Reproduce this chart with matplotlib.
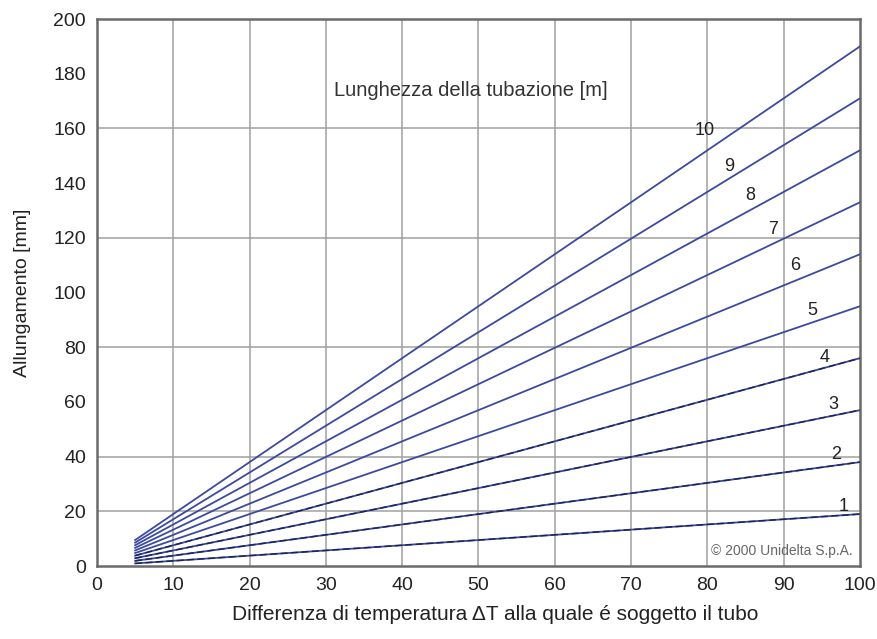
import matplotlib
matplotlib.use('Agg')
import matplotlib.pyplot as plt

plt.rcParams['font.family'] = ['Liberation Sans', 'DejaVu Sans']

# Lunghezza della tubazione [m]
lunghezze = [1, 2, 3, 4, 5, 6, 7, 8, 9, 10]
dt_inizio = 5
dt_fine = 100
# allungamento [mm] all'inizio e alla fine di ogni retta
allung_inizio = [0.95, 1.9, 2.85, 3.8, 4.75, 5.7, 6.65, 7.6, 8.55, 9.5]
allung_fine = [19, 38, 57, 76, 95, 114, 133, 152, 171, 190]
# posizione delle etichette (x, y)
etich_x = [97.8, 96.9, 96.5, 95.4, 93.7, 91.5, 88.6, 85.6, 82.8, 79.7]
etich_y = [21.6, 40.6, 59.2, 76.4, 93.6, 110, 123, 135.6, 146, 159.4]

x_ticks = list(range(0, 101, 10))
y_ticks = list(range(0, 201, 20))
y_griglia = [20, 40, 80, 120, 160]

fig = plt.figure(figsize=(8.77, 6.39), dpi=100)
ax = fig.add_axes([0.1106, 0.1142, 0.87, 0.856])

# griglia
for xv in x_ticks[1:-1]:
    ax.axvline(xv, color='#a0a0a0', lw=1.1, zorder=1)
for yv in y_griglia:
    ax.axhline(yv, color='#a0a0a0', lw=1.1, zorder=1)

for i, L in enumerate(lunghezze):
    xs = [dt_inizio, dt_fine]
    ys = [allung_inizio[i], allung_fine[i]]
    ax.plot(xs, ys, color='#3c4a9e', lw=1.3, zorder=3)
    if L <= 4:
        ax.plot(xs, ys, color='#1c2350', lw=1.0, dashes=(5, 2.5), zorder=4)
    ax.text(etich_x[i], etich_y[i], str(L), fontsize=13, color='#222222',
            ha='center', va='center', zorder=5)

ax.text(49, 174, 'Lunghezza della tubazione [m]', fontsize=14.5,
        color='#333333', ha='center', va='center')
ax.text(99, 5.5, '© 2000 Unidelta S.p.A.', fontsize=10, color='#666666',
        ha='right', va='center')

ax.set_xlim(0, 100)
ax.set_ylim(0, 200)
ax.set_xticks(x_ticks)
ax.set_yticks(y_ticks)
ax.tick_params(length=0, labelsize=14, labelcolor='#222222', pad=8)
for s in ax.spines.values():
    s.set_color('#6a6a6a')
    s.set_linewidth(1.8)

ax.set_xlabel('Differenza di temperatura ΔT alla quale é soggetto il tubo',
              fontsize=15, color='#222222')
ax.xaxis.set_label_coords(0.522, -0.071)
ax.set_ylabel('Allungamento [mm]', fontsize=14, color='#222222', labelpad=16)

fig.savefig('out.png', dpi=100, facecolor='white')
